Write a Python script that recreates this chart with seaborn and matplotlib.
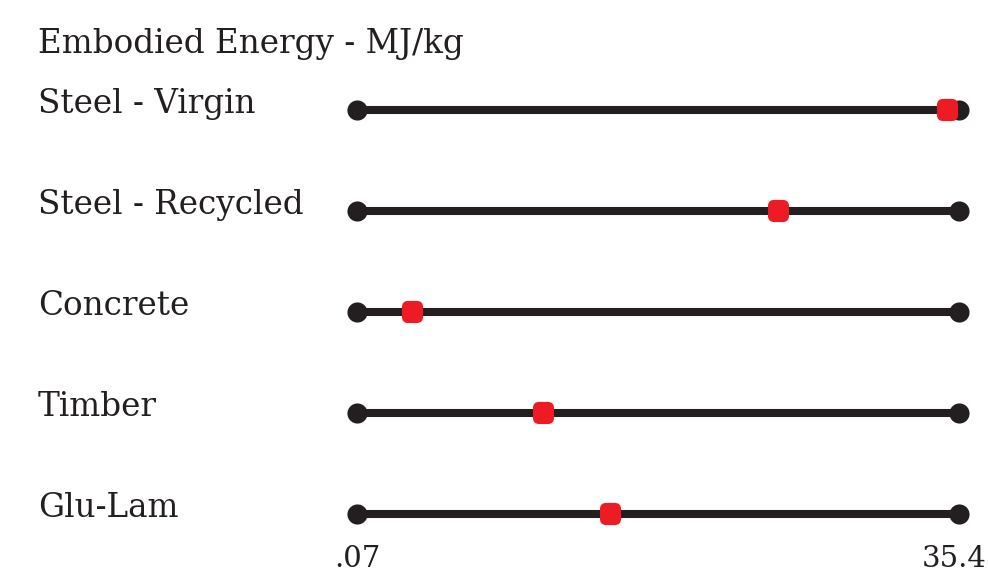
import matplotlib
matplotlib.use("Agg")
import matplotlib.pyplot as plt
import matplotlib.patches as mpatches
import matplotlib.transforms as mtrans
import seaborn as sns
import pandas as pd

materials = ["Steel - Virgin", "Steel - Recycled", "Concrete", "Timber", "Glu-Lam"]
values = [34.7, 24.8, 3.3, 11.0, 14.9]
range_min = 0.07
range_max = 35.4
tick_values = [0.07, 35.4]
tick_labels = [".07", "35.4"]
title = "Embodied Energy - MJ/kg"

BLACK = "#231F20"
RED = "#ED1C24"
FONT = "DejaVu Serif"

sns.set_theme(style="white")
plt.rcParams["font.family"] = [FONT, "Liberation Serif"]

df = pd.DataFrame({"material": materials, "value": values,
                   "pos": range(len(materials))})
df["lo"] = range_min
df["hi"] = range_max

fig = plt.figure(figsize=(9.88, 5.80), dpi=100)
W, H = 988, 580
ax = fig.add_axes([357 / W, 1 - 514 / H, (959 - 357) / W, (514 - 110) / H])

ax.hlines(df["pos"], df["lo"], df["hi"], color=BLACK, linewidth=5.8,
          clip_on=False, zorder=1)
ends = pd.concat([df[["pos", "lo"]].rename(columns={"lo": "x"}),
                  df[["pos", "hi"]].rename(columns={"hi": "x"})])
sns.scatterplot(data=ends, x="x", y="pos", ax=ax, s=210, color=BLACK,
                linewidth=0, clip_on=False, zorder=2, legend=False)

rr = mpatches.FancyBboxPatch((-0.5, -0.5), 1.0, 1.05,
                             boxstyle="round,pad=0,rounding_size=0.3").get_path()
sns.scatterplot(data=df, x="value", y="pos", ax=ax, marker=rr, s=280,
                color=RED, linewidth=0, clip_on=False, zorder=3, legend=False)

ax.set_xlim(range_min, range_max)
ax.set_ylim(len(materials) - 1, 0)
ax.set_xticks(tick_values)
ax.set_xticklabels(tick_labels, fontsize=21, color=BLACK)
ax.tick_params(axis="x", length=0, pad=22)
# keep the last tick label inside the canvas
last = ax.get_xticklabels()[-1]
last.set_transform(last.get_transform() +
                   mtrans.ScaledTranslation(-5 / 100, 0, fig.dpi_scale_trans))
ax.set_yticks([])
ax.set_xlabel("")
ax.set_ylabel("")
for s in ax.spines.values():
    s.set_visible(False)

trans = mtrans.blended_transform_factory(fig.transFigure, ax.transData)
off = mtrans.ScaledTranslation(0, -3 / 100, fig.dpi_scale_trans)
for name, p in zip(df["material"], df["pos"]):
    ax.text(38 / W, p, name, transform=trans + off, ha="left", va="baseline",
            fontsize=23.5, color=BLACK)

fig.text(38 / W, 1 - 53 / H, title, ha="left", va="baseline",
         fontsize=23.5, color=BLACK)

fig.savefig("out.png", dpi=100)
